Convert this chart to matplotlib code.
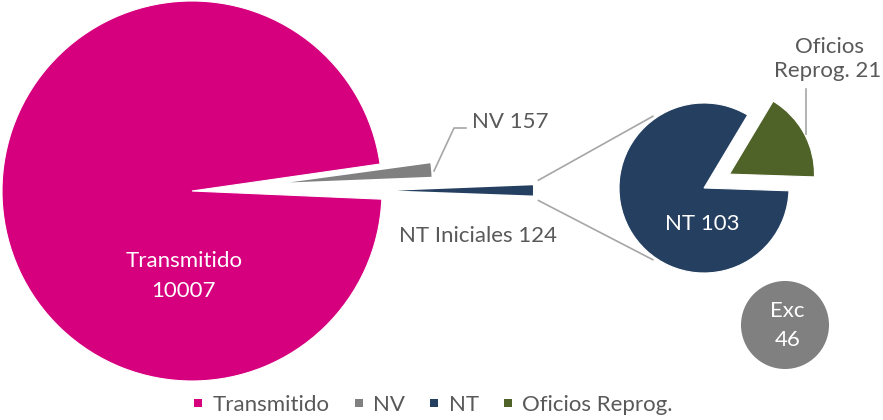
import numpy as np
import matplotlib
matplotlib.use("Agg")
import matplotlib.pyplot as plt
from matplotlib.patches import Wedge, Circle
from matplotlib.lines import Line2D

plt.rcParams['font.family'] = ['Lato', 'DejaVu Sans']

# ---- data ----
main_labels = ['Transmitido', 'NV', 'NT Iniciales']
main_values = [10007, 157, 124]
sec_labels = ['NT', 'Oficios Reprog.']
sec_values = [103, 21]
exc_label = 'Exc'
exc_value = 46
legend_labels = ['Transmitido', 'NV', 'NT', 'Oficios Reprog.']

# ---- style ----
C_PINK = '#D6007F'
C_GRAY = '#808080'
C_BLUE = '#243F60'
C_GREEN = '#4F6228'
C_TEXT = '#595959'
C_LINE = '#A6A6A6'
FS = 16

W, H = 883, 420
fig = plt.figure(figsize=(W / 100, H / 100), dpi=100)
ax = fig.add_axes([0, 0, 1, 1])
ax.set_xlim(0, W)
ax.set_ylim(0, H)
ax.axis('off')

def P(px, py):
    return (px, H - py)

def pol(c, r, ang):
    a = np.deg2rad(ang)
    return (c[0] + r * np.cos(a), c[1] + r * np.sin(a))

WEDGE_KW = dict(lw=0.8, edgecolor='white')

# ---- main pie ----
total = sum(main_values)
spans = [360.0 * v / total for v in main_values]
c_main = P(192, 191)
R_main = 190
gap_center = 2.85
grp = spans[1] + spans[2]
nt_lo = gap_center - grp / 2
nt_hi = nt_lo + spans[2]
nv_lo, nv_hi = nt_hi, nt_hi + spans[1]

ax.add_patch(Wedge(c_main, R_main, nv_hi + 0.4, nt_lo + 360 - 0.4, facecolor=C_PINK, **WEDGE_KW))

nv_mid = (nv_lo + nv_hi) / 2
c_nv = pol(c_main, 98, nv_mid)
ax.add_patch(Wedge(c_nv, 142, nv_lo, nv_hi, facecolor=C_GRAY, lw=0))

nt_mid = (nt_lo + nt_hi) / 2
c_nt = pol(c_main, 205, nt_mid)
R_nt = 136
ax.add_patch(Wedge(c_nt, R_nt, nt_lo, nt_hi, facecolor=C_BLUE, lw=0))

# ---- secondary pie ----
stot = sum(sec_values)
sspans = [360.0 * v / stot for v in sec_values]
c_sec = P(704, 188)
R_sec = 85
g_mid = 28.6
g_lo = g_mid - sspans[1] / 2
g_hi = g_mid + sspans[1] / 2
ax.add_patch(Wedge(c_sec, R_sec, g_hi, g_lo + 360, facecolor=C_BLUE, **WEDGE_KW))
c_g = pol(c_sec, 29, g_mid)
ax.add_patch(Wedge(c_g, R_sec, g_lo, g_hi, facecolor=C_GREEN, **WEDGE_KW))

# ---- connector lines ----
p1 = pol(c_nt, R_nt + 5, nt_hi + 1.0)
p2 = pol(c_nt, R_nt + 5, nt_lo - 1.0)
q1 = pol(c_sec, 88, 125)
q2 = pol(c_sec, 88, 235)
ax.plot([p1[0], q1[0]], [p1[1] + 2, q1[1]], color=C_LINE, lw=1.2, solid_capstyle='butt')
ax.plot([p2[0], q2[0]], [p2[1] - 2, q2[1]], color=C_LINE, lw=1.2, solid_capstyle='butt')

# ---- Exc bubble ----
c_exc = P(785, 325)
ax.add_patch(Circle(c_exc, 44, color=C_GRAY, lw=0))

# ---- labels ----
def txt(x, y, s, color, ha='center'):
    ax.text(x, H - y, s, color=color, fontsize=FS, ha=ha, va='baseline')

txt(184, 267, main_labels[0], 'white')
txt(183, 297, f'{main_values[0]}', 'white')

# NV leader
ax.plot([434, 454, 466], [H - 171, H - 128, H - 128], color=C_LINE, lw=1.2)
txt(472, 128, f'{main_labels[1]} {main_values[1]}', C_TEXT, ha='left')
txt(478, 242, f'{main_labels[2]} {main_values[2]}', C_TEXT)
txt(702, 230, f'{sec_labels[0]} {sec_values[0]}', 'white')

# Oficios leader
ax.plot([806, 806], [H - 89, H - 134], color=C_LINE, lw=1.2)
txt(829, 53, 'Oficios', C_TEXT)
txt(828, 77, f'Reprog. {sec_values[1]}', C_TEXT)

txt(787, 317, exc_label, 'white')
txt(788, 346, f'{exc_value}', 'white')

# ---- legend ----
handles = [Line2D([], [], marker='s', ls='none', markersize=5.8, color=c, markeredgewidth=0)
           for c in [C_PINK, C_GRAY, C_BLUE, C_GREEN]]
leg = ax.legend(handles, legend_labels, loc='lower center', bbox_to_anchor=(0.49, -0.025),
                ncol=4, frameon=False, fontsize=FS, handlelength=0.5, handletextpad=0.4,
                columnspacing=1.05, borderpad=0.2)
for t in leg.get_texts():
    t.set_color(C_TEXT)

fig.savefig('out.png', dpi=100)
